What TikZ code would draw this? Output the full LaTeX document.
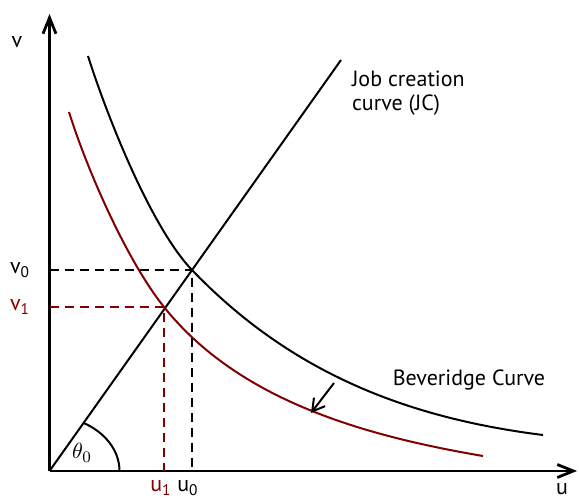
\documentclass[tikz,border=0pt]{standalone}
\usepackage{fontspec}
\setmainfont{PT Sans}
\usetikzlibrary{arrows.meta,positioning,calc}
\definecolor{darkred}{rgb}{0.5,0,0}

\begin{document}
\begin{tikzpicture}[x=0.5pt, y=-0.5pt, font=\fontsize{11}{12}\selectfont,
    axis/.style={line width=1.4pt, -{Straight Barb[length=8pt,width=6.5pt]}},
    curve/.style={line width=1pt},
    guide/.style={line width=1pt, dash pattern=on 4.5pt off 3pt}]
    \useasboundingbox (0,0) rectangle (579,499);

    % --- Axes ---
    \coordinate (O) at (49.5,471);
    \coordinate (ytop) at (49.5,14);
    \coordinate (xend) at (577,471);
    \draw[axis] (O) -- (ytop);
    \draw[axis] (O) -- (xend);
    \node (vlab) at (17,42) {v};
    \node[inner sep=1pt] (ulab) at (562,489) {u};

    % --- Job creation curve ---
    \coordinate (JC) at (341,60);
    \draw[curve] (O) -- (JC);
    \node[anchor=west, align=left] (jclab) at (345,93) {Job creation\\curve (JC)};

    % Angle
    \draw[curve] ($(O)+(70,0)$) arc[start angle=0, end angle=60.9, x radius=35pt, y radius=27.5pt];
    \node (theta) at (82,453) {$\theta_0$};

    % --- Equilibria ---
    \coordinate (E0) at (192,270);
    \coordinate (E1) at (164,307);

    % --- Beveridge curves ---
    \draw[curve] (88,56) .. controls (106,113) and (150.4,226.7) .. (E0)
        .. controls (289,371) and (404,417.6) .. (543,435);
    \draw[curve, darkred] (69,112) .. controls (86.9,169.3) and (126.5,260.1) .. (E1)
        .. controls (239,400.7) and (364.7,435.8) .. (483,456);
    \node (bclab) at (469,380) {Beveridge Curve};

    % Shift arrow
    \coordinate (sh0) at (334,383);
    \coordinate (sh1) at (311,413);
    \draw[curve, -{Straight Barb[length=6pt,width=7pt]}] (sh0) -- (sh1);

    % Dashed guides
    \draw[guide] (O |- E0) -- (E0) -- (E0 |- O);
    \draw[guide, darkred] (O |- E1) -- (E1) -- (E1 |- O);
    \node (v0) at (20,270) {v\textsubscript{0}};
    \node[darkred] (v1) at (20,307) {v\textsubscript{1}};
    \node[darkred] (u1) at (161,488) {u\textsubscript{1}};
    \node (u0) at (188,488) {u\textsubscript{0}};
\end{tikzpicture}
\end{document}
